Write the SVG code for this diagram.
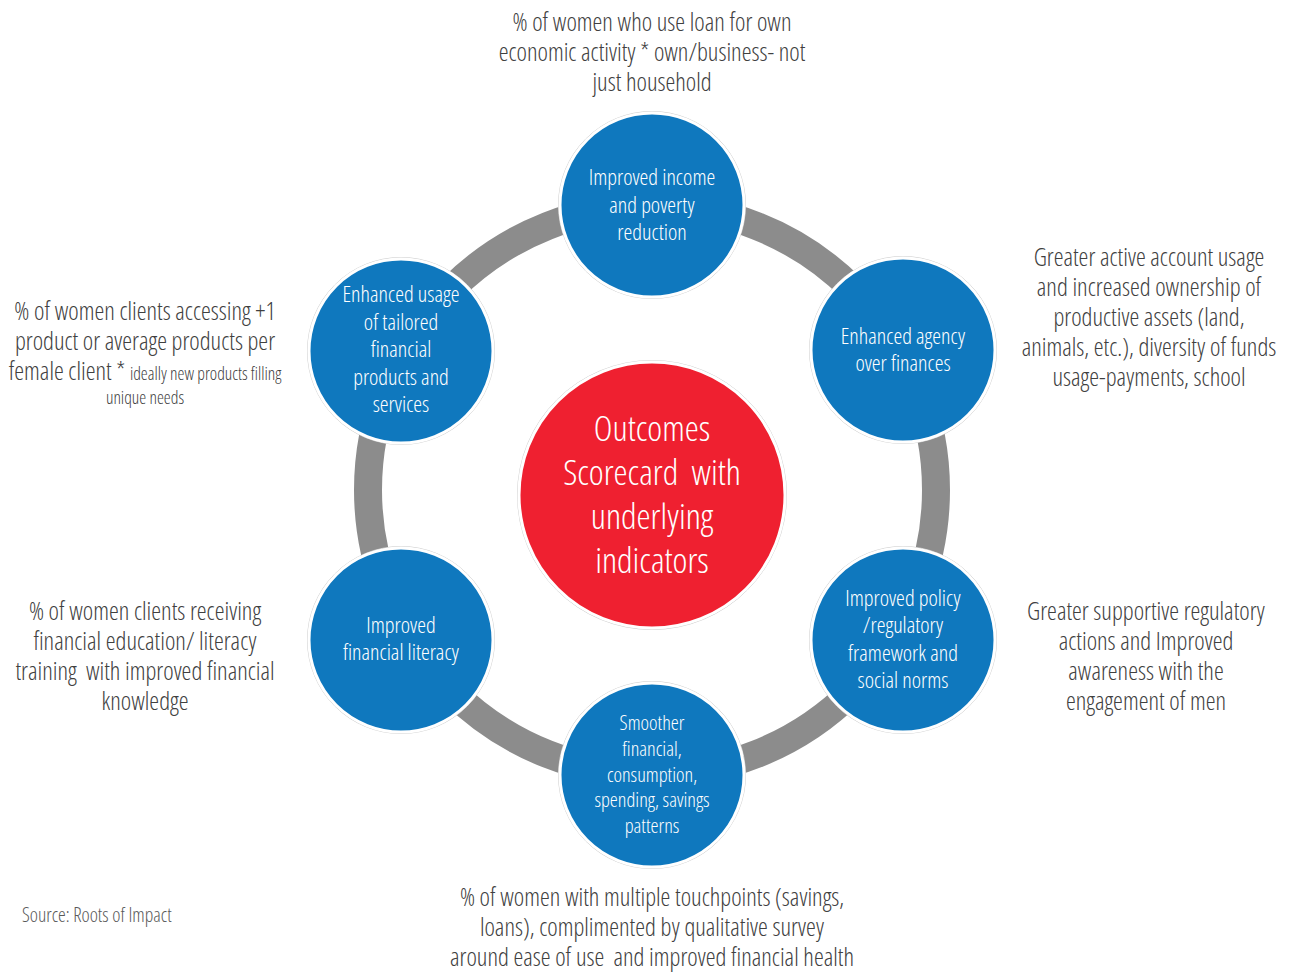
<svg xmlns="http://www.w3.org/2000/svg" width="1290" height="974" viewBox="0 0 1290 974">
<defs>
<style>
text{font-family:"Open Sans","Liberation Sans Narrow","Liberation Sans",sans-serif;font-stretch:condensed;font-weight:300;text-anchor:middle;white-space:pre}
.lbl{font-size:24.8px;fill:#404040}
.sm{font-size:17.5px;fill:#404040}
.nt{font-size:22.2px;fill:#ffffff}
.nts{font-size:20.3px;fill:#ffffff}
.ct{font-size:35.5px;fill:#ffffff}
.node{fill:#0f78be;stroke:#ffffff;stroke-width:3}
.halo{fill:none;stroke:#d0d0d0;stroke-width:1}
.src{font-size:19.5px;fill:#595959;text-anchor:start}
</style>
</defs>
<rect width="1290" height="974" fill="#ffffff"/>
<g id="connectors">
<circle cx="652" cy="490" r="284" fill="none" stroke="#8c8c8c" stroke-width="28"/>
</g>
<g id="center">
<circle cx="652" cy="495" r="134.5" class="halo"/>
<circle cx="652" cy="495" r="133" fill="#ef2030" stroke="#ffffff" stroke-width="3"/>
<text class="ct" xml:space="preserve"><tspan x="652" y="441">Outcomes</tspan><tspan x="652" y="485">Scorecard  with</tspan><tspan x="652" y="529">underlying</tspan><tspan x="652" y="573">indicators</tspan></text>
</g>
<g id="node-top">
<circle cx="652" cy="205" r="93.5" class="halo"/>
<circle cx="652" cy="205" r="92" class="node"/>
<text class="nt"><tspan x="652" y="185">Improved income</tspan><tspan x="652" y="213">and poverty</tspan><tspan x="652" y="240">reduction</tspan></text>
</g>
<g id="node-ur">
<circle cx="903" cy="350" r="93.5" class="halo"/>
<circle cx="903" cy="350" r="92" class="node"/>
<text class="nt"><tspan x="903" y="344">Enhanced agency</tspan><tspan x="903" y="371">over finances</tspan></text>
</g>
<g id="node-lr">
<circle cx="903" cy="640" r="93.5" class="halo"/>
<circle cx="903" cy="640" r="92" class="node"/>
<text class="nt"><tspan x="903" y="606">Improved policy</tspan><tspan x="903" y="633">/regulatory</tspan><tspan x="903" y="661">framework and</tspan><tspan x="903" y="688">social norms</tspan></text>
</g>
<g id="node-bottom">
<circle cx="652" cy="775" r="93.5" class="halo"/>
<circle cx="652" cy="775" r="92" class="node"/>
<text class="nts"><tspan x="652" y="730">Smoother</tspan><tspan x="652" y="756">financial,</tspan><tspan x="652" y="782">consumption,</tspan><tspan x="652" y="807">spending, savings</tspan><tspan x="652" y="833">patterns</tspan></text>
</g>
<g id="node-ll">
<circle cx="401" cy="640" r="93.5" class="halo"/>
<circle cx="401" cy="640" r="92" class="node"/>
<text class="nt"><tspan x="401" y="633">Improved</tspan><tspan x="401" y="660">financial literacy</tspan></text>
</g>
<g id="node-ul">
<circle cx="401" cy="351" r="93.5" class="halo"/>
<circle cx="401" cy="351" r="92" class="node"/>
<text class="nt"><tspan x="401" y="302">Enhanced usage</tspan><tspan x="401" y="330">of tailored</tspan><tspan x="401" y="357">financial</tspan><tspan x="401" y="385">products and</tspan><tspan x="401" y="412">services</tspan></text>
</g>
<g id="labels">
<text class="lbl"><tspan x="652" y="31">% of women who use loan for own</tspan><tspan x="652" y="61">economic activity * own/business- not</tspan><tspan x="652" y="91">just household</tspan></text>
<text class="lbl"><tspan x="1149" y="266">Greater active account usage</tspan><tspan x="1149" y="296">and increased ownership of</tspan><tspan x="1149" y="326">productive assets (land,</tspan><tspan x="1149" y="356">animals, etc.), diversity of funds</tspan><tspan x="1149" y="386">usage-payments, school</tspan></text>
<text class="lbl"><tspan x="145" y="320">% of women clients accessing +1</tspan><tspan x="145" y="350">product or average products per</tspan><tspan x="145" y="380">female client * <tspan class="sm">ideally new products filling</tspan></tspan></text>
<text class="sm"><tspan x="145" y="404">unique needs</tspan></text>
<text class="lbl" xml:space="preserve"><tspan x="145" y="620">% of women clients receiving</tspan><tspan x="145" y="650">financial education/ literacy</tspan><tspan x="145" y="680">training  with improved financial</tspan><tspan x="145" y="710">knowledge</tspan></text>
<text class="lbl"><tspan x="1146" y="620">Greater supportive regulatory</tspan><tspan x="1146" y="650">actions and Improved</tspan><tspan x="1146" y="680">awareness with the</tspan><tspan x="1146" y="710">engagement of men</tspan></text>
<text class="lbl" xml:space="preserve"><tspan x="652" y="906">% of women with multiple touchpoints (savings,</tspan><tspan x="652" y="936">loans), complimented by qualitative survey</tspan><tspan x="652" y="966">around ease of use  and improved financial health</tspan></text>
<text class="src" x="22" y="922">Source: Roots of Impact</text>
</g>
</svg>
